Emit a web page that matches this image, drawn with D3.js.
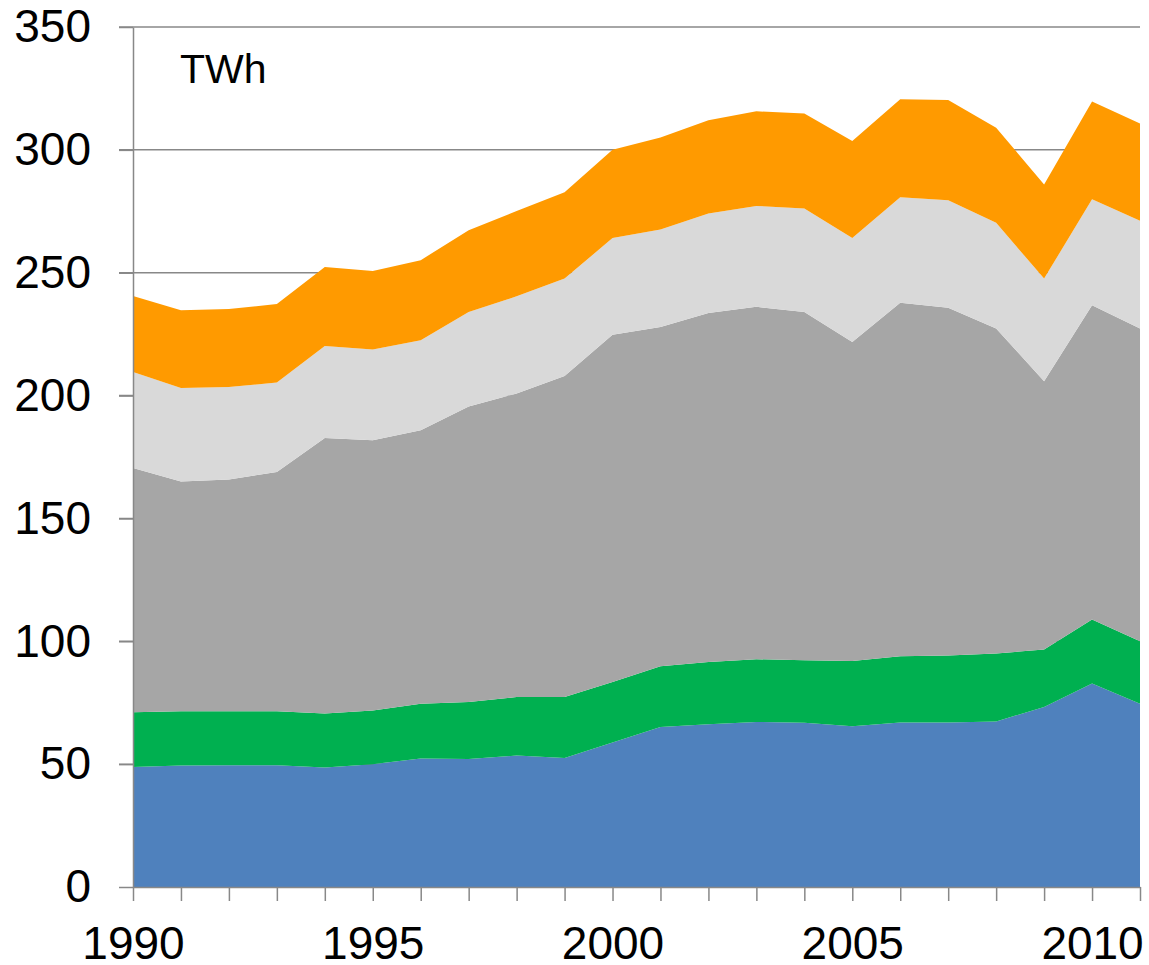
<!DOCTYPE html>
<html>
<head>
<meta charset="utf-8">
<script src="https://cdn.jsdelivr.net/npm/d3@7"></script>
<style>
  body { margin: 0; background: #fff; }
  svg { display: block; font-family: Arial, "Liberation Sans", sans-serif; }
  .grid line { stroke: #888; stroke-width: 1.5; }
  .axis path, .axis line { stroke: #888; stroke-width: 1.5; }
  .axis text { fill: #000; font-size: 46px; }
</style>
</head>
<body>
<svg width="1149" height="965"></svg>
<script>
const years = d3.range(1990, 2012);

// TWh, bottom to top of the stack
const blueValues = [48.8, 49.4, 49.5, 49.5, 48.6, 50.0, 52.3, 52.1, 53.5, 52.5, 58.8,
    65.1, 66.2, 67.2, 66.8, 65.4, 66.9, 66.9, 67.4, 73.3, 82.8, 74.6];
const greenValues = [22.3, 22.1, 22.0, 22.0, 22.0, 21.8, 22.3, 23.2, 23.8, 24.8, 24.6,
    24.7, 25.4, 25.5, 25.5, 26.6, 27.0, 27.3, 27.6, 23.4, 26.1, 25.4];
const darkGreyValues = [99.4, 93.5, 94.3, 97.4, 112.1, 110.0, 111.3, 120.3, 123.5, 130.7, 141.4,
    138.1, 142.0, 143.4, 141.7, 129.8, 143.9, 141.5, 132.3, 109.1, 127.9, 127.3];
const lightGreyValues = [39.1, 38.1, 37.7, 36.4, 37.5, 36.9, 36.6, 38.4, 39.6, 39.6, 39.3,
    39.7, 40.5, 41.1, 42.1, 42.3, 42.9, 43.8, 43.0, 41.8, 43.1, 43.8];
const orangeValues = [30.9, 31.6, 31.7, 32.0, 32.1, 32.0, 32.6, 33.3, 34.7, 35.1, 35.9,
    37.4, 37.9, 38.5, 38.7, 39.5, 39.9, 40.8, 38.7, 38.3, 39.8, 39.6];

const yTicks = [0, 50, 100, 150, 200, 250, 300, 350];
const xLabelYears = [1990, 1995, 2000, 2005, 2010];

const keys = ['blue', 'green', 'darkGrey', 'lightGrey', 'orange'];
const colors = {
    blue: '#4f81bd',
    green: '#00b050',
    darkGrey: '#a6a6a6',
    lightGrey: '#d9d9d9',
    orange: '#ff9a00'
};

const table = years.map((year, i) => ({
    year,
    blue: blueValues[i],
    green: greenValues[i],
    darkGrey: darkGreyValues[i],
    lightGrey: lightGreyValues[i],
    orange: orangeValues[i]
}));

const svg = d3.select('svg');
const margin = {left: 133, right: 9, top: 27, bottom: 78};
const width = 1149 - margin.left - margin.right;
const height = 965 - margin.top - margin.bottom;

const x = d3.scaleLinear().domain([1990, 2011]).range([0, width]);
const y = d3.scaleLinear().domain([0, 350]).range([height, 0]);

const g = svg.append('g')
    .attr('transform', `translate(${margin.left},${margin.top})`);

// gridlines, including the little stub left of the axis
g.append('g')
    .attr('class', 'grid')
    .selectAll('line').data(yTicks.filter(d => d > 0))
    .enter().append('line')
        .attr('x1', -14)
        .attr('x2', width)
        .attr('y1', d => y(d))
        .attr('y2', d => y(d));

const series = d3.stack().keys(keys)(table);

const area = d3.area()
    .x(d => x(d.data.year))
    .y0(d => y(d[0]))
    .y1(d => y(d[1]));

g.selectAll('path.layer').data(series)
    .enter().append('path')
        .attr('class', 'layer')
        .attr('fill', d => colors[d.key])
        .attr('d', area);

g.append('g')
    .attr('class', 'axis')
    .call(d3.axisLeft(y)
        .tickValues(yTicks)
        .tickSize(14)
        .tickPadding(28)
        .tickSizeOuter(0));

g.append('g')
    .attr('class', 'axis')
    .attr('transform', `translate(0,${height})`)
    .call(d3.axisBottom(x)
        .tickValues(years)
        .tickSize(14)
        .tickPadding(25)
        .tickSizeOuter(0)
        .tickFormat(d => xLabelYears.includes(d) ? d : ''));

g.append('text')
    .attr('x', 47)
    .attr('y', 56)
    .attr('font-size', 41)
    .attr('fill', '#000')
    .text('TWh');
</script>
</body>
</html>
